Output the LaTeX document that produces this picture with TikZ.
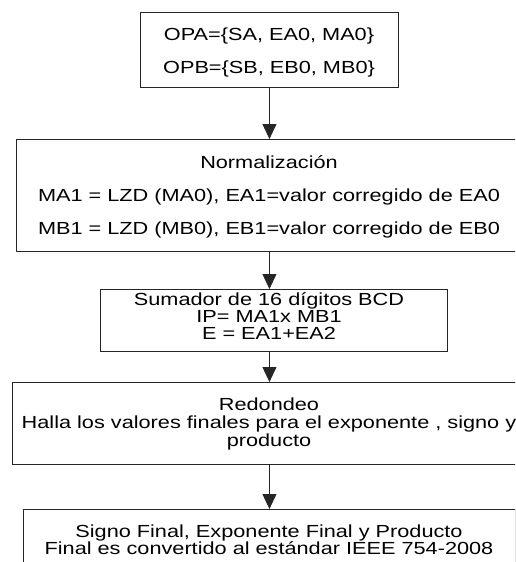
\documentclass[tikz,border=0pt]{standalone}
\usepackage{fontspec}
\setmainfont{Liberation Sans}[FakeStretch=1.24]
\usetikzlibrary{arrows.meta}
\begin{document}
\begin{tikzpicture}[x=1pt,y=-1pt,
  box/.style={draw=black!85, line width=0.9pt, rectangle, inner sep=0pt, anchor=north west},
  txt/.style={anchor=base, inner sep=0pt, font=\fontsize{17.5}{18}\selectfont},
  arr/.style={draw=black!85, line width=0.9pt, -{Triangle[width=14pt,length=15pt]}}]
\useasboundingbox (0,0) rectangle (515,562);
\clip (0,0) rectangle (515,562);

% process boxes
\node[box, minimum width=258pt, minimum height=75pt]  (b1) at (140,12)  {};
\node[box, minimum width=506pt, minimum height=112pt] (b2) at (16,139)  {};
\node[box, minimum width=347pt, minimum height=62pt]  (b3) at (100,289) {};
\node[box, minimum width=514pt, minimum height=82pt]  (b4) at (12,382)  {};
\node[box, minimum width=492pt, minimum height=90pt]  (b5) at (23,509)  {};

% box texts
\node[txt] (t1a) at (269,40.3)  {OPA=\{SA, EA0, MA0\}};
\node[txt] (t1b) at (269,73.3)  {OPB=\{SB, EB0, MB0\}};
\node[txt] (t2a) at (269,168.3) {Normalización};
\node[txt] (t2b) at (269,201.3) {MA1 = LZD (MA0), EA1=valor corregido de EA0};
\node[txt] (t2c) at (269,234.3) {MB1 = LZD (MB0), EB1=valor corregido de EB0};
\node[txt] (t3a) at (269,305.3) {Sumador de 16 dígitos BCD};
\node[txt] (t3b) at (269,322.3) {IP= MA1x MB1};
\node[txt] (t3c) at (269,339.3) {E = EA1+EA2};
\node[txt] (t4a) at (269,410.3) {Redondeo};
\node[txt] (t4b) at (269,428.3) {Halla los valores finales para el exponente , signo y};
\node[txt] (t4c) at (269,446.3) {producto};
\node[txt] (t5a) at (269,537.3) {Signo Final, Exponente Final y Producto};
\node[txt] (t5b) at (269,554.3) {Final es convertido al estándar IEEE 754-2008};

% connectors
\draw[arr] (b1.south) -- (b2.north);
\draw[arr] (b2.south) -- (b3.north -| b2.south);
\draw[arr] (b3.south -| b4.north) -- (b4.north);
\draw[arr] (b4.south) -- (b5.north);
\end{tikzpicture}
\end{document}
